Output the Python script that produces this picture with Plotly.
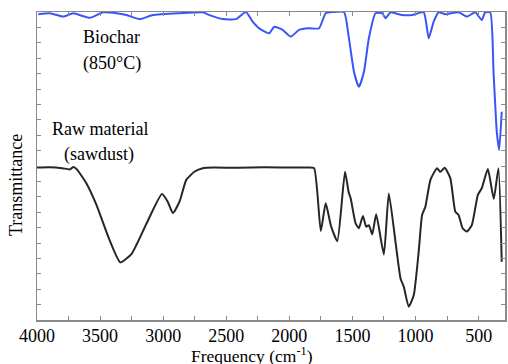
import plotly.graph_objects as go

# Raw material (sawdust) spectrum: wavenumber (cm-1) and transmittance (a.u.)
raw_wn = [4000, 3900, 3800, 3739, 3710, 3686, 3610, 3528, 3430, 3339, 3250, 3130, 3010,
          2965, 2923, 2870, 2817, 2750, 2686, 2600, 2400, 2200, 2000, 1850, 1804, 1751,
          1712, 1670, 1620, 1559, 1530, 1514, 1475, 1449, 1417, 1391, 1370, 1343, 1312,
          1251, 1212, 1159, 1119, 1093, 1054, 1014, 975, 948, 922, 882, 830, 803, 769,
          724, 685, 659, 627, 593, 554, 506, 475, 427, 380, 343, 317]
raw_t = [49.5, 49.6, 49.3, 48.9, 49.7, 49.0, 44.5, 37.3, 26.5, 18.7, 21.5, 31.5, 40.9,
         38.5, 34.7, 38.5, 45.5, 48.2, 49.3, 49.5, 49.4, 49.6, 49.5, 49.5, 49.3, 28.9,
         37.9, 30.5, 25.6, 48.1, 41.5, 39.5, 31.4, 29.8, 33.8, 30.3, 30.8, 27.8, 34.3,
         21.3, 41.1, 25.4, 13.5, 10.8, 4.3, 8.1, 22.2, 34.1, 36.8, 45.5, 49.3, 48.1, 49.4,
         46.0, 35.2, 34.1, 29.8, 28.7, 30.8, 40.6, 42.8, 49.0, 39.3, 49.3, 18.9]

# Biochar (850 °C) spectrum
bio_wn = [3990, 3897, 3792, 3713, 3581, 3476, 3370, 3291, 3186, 3081, 2870, 2686, 2633,
          2528, 2423, 2344, 2291, 2239, 2160, 2120, 2054, 1988, 1923, 1844, 1765, 1712,
          1660, 1567, 1528, 1488, 1449, 1409, 1370, 1317, 1265, 1238, 1198, 1107, 1028,
          935, 896, 856, 817, 764, 659, 593, 527, 475, 448, 408, 382, 356, 337, 317]
bio_t = [99.3, 99.6, 98.5, 99.6, 98.1, 99.9, 99.6, 99.0, 97.7, 99.0, 99.6, 99.9, 99.0,
         97.7, 97.7, 100.0, 96.9, 94.7, 93.1, 95.2, 94.2, 92.0, 94.2, 94.7, 94.7, 99.6,
         100.0, 100.0, 91.5, 80.6, 75.7, 80.6, 91.5, 99.6, 99.6, 98.0, 99.9, 99.0, 99.0,
         99.9, 91.5, 96.9, 99.9, 99.3, 99.9, 98.5, 99.9, 97.4, 99.9, 99.9, 80.6, 61.1, 55.2, 67.6]

x_ticks = [4000, 3500, 3000, 2500, 2000, 1500, 1000, 500]

SERIF = "Liberation Serif"

fig = go.Figure()
fig.add_trace(go.Scatter(x=raw_wn, y=raw_t, mode="lines",
                         line=dict(color="#262626", width=2, shape="spline", smoothing=0.5),
                         showlegend=False, hoverinfo="skip"))
fig.add_trace(go.Scatter(x=bio_wn, y=bio_t, mode="lines",
                         line=dict(color="#3a55f5", width=2, shape="spline", smoothing=0.5),
                         showlegend=False, hoverinfo="skip"))

axis_common = dict(showgrid=False, zeroline=False, showline=True, linecolor="#8a8a8a",
                   linewidth=1.5, mirror="ticks", ticks="inside", ticklen=4,
                   tickcolor="#8a8a8a", automargin=False)

fig.update_xaxes(range=[4000, 291], tickvals=x_ticks,
                 tickfont=dict(family=SERIF, size=18, color="black"),
                 ticklabelstandoff=-1,
                 minor=dict(dtick=250, ticks="inside", ticklen=4, tickcolor="#8a8a8a"),
                 **axis_common)
fig.update_yaxes(range=[0, 100], dtick=5, showticklabels=False, **axis_common)

W, H = 508, 364
L, R, T, B = 37, 2.5, 12, 44
pw, ph = W - L - R, H - T - B


def ann(txt, px, py, angle=0, size=18):
    fig.add_annotation(x=(px - L) / pw, y=1 - (py - T) / ph, xref="paper", yref="paper",
                       text=txt, showarrow=False, textangle=angle,
                       font=dict(family=SERIF, size=size, color="black"),
                       xanchor="center", yanchor="middle")


ann("Biochar", 112, 37)
ann("(850°C)", 112, 64)
ann("Raw material", 100, 129)
ann("(sawdust)", 99, 154)
ann("Transmittance", 16, 185, angle=-90)
ann("Frequency (cm<sup>-1</sup>)", 252, 355, size=17.5)

fig.update_layout(width=W, height=H, margin=dict(l=L, r=R, t=T, b=B),
                  paper_bgcolor="white", plot_bgcolor="white", hovermode=False)

fig.write_html("out.html", config={"displayModeBar": False, "staticPlot": True},
               post_script="document.body.style.margin='0';document.body.style.overflow='hidden';")
